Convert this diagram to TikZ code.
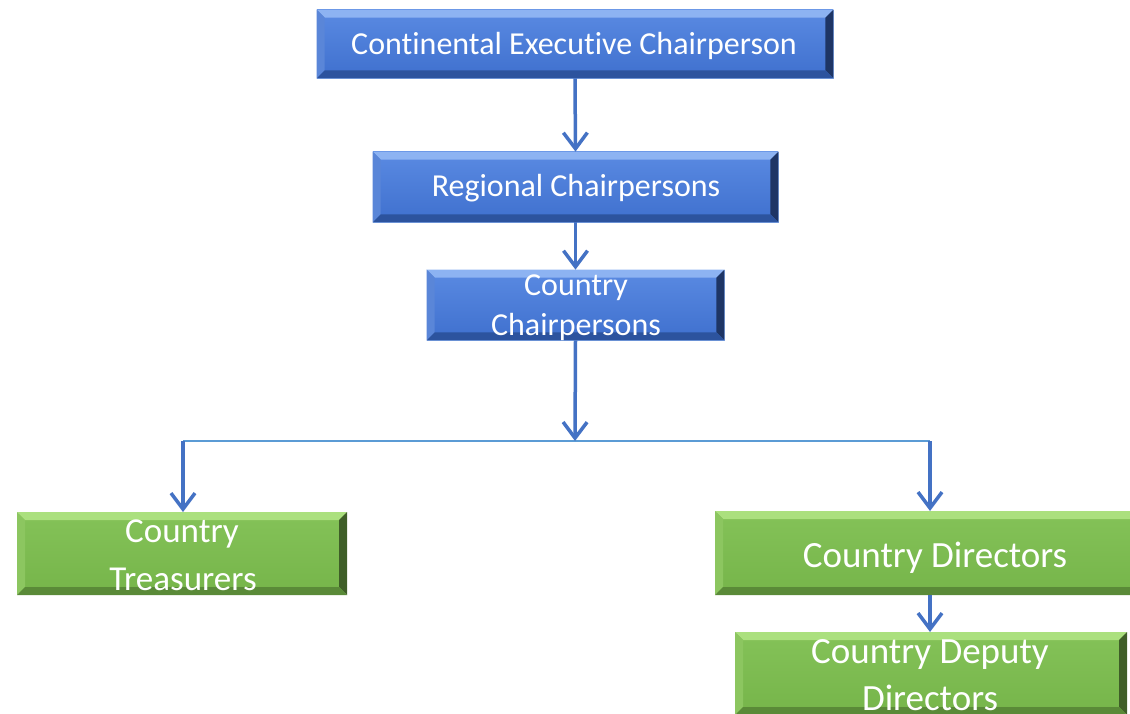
\documentclass[tikz,border=0pt]{standalone}
\usepackage{fontspec}
\setmainfont{Carlito}[Ligatures={NoCommon}]
\usetikzlibrary{arrows.meta,calc}
\definecolor{arrowblue}{HTML}{4472C4}
\definecolor{lineblue}{HTML}{5B9BD5}
\definecolor{bface}{HTML}{3F70CE}
\definecolor{bfacetop}{HTML}{5A8AE2}
\definecolor{btop}{HTML}{8DB3F2}
\definecolor{bleft}{HTML}{5A86D8}
\definecolor{bright}{HTML}{1E3565}
\definecolor{bbottom}{HTML}{2C539E}
\definecolor{gface}{HTML}{76B54A}
\definecolor{gfacetop}{HTML}{84C258}
\definecolor{gtop}{HTML}{ABE07E}
\definecolor{gleft}{HTML}{8CC660}
\definecolor{gright}{HTML}{3F5E28}
\definecolor{gbottom}{HTML}{5A8A38}
\definecolor{frame}{HTML}{C9C9C9}
\newcommand{\bevelme}[5]{%
  \fill[#2] (#1.north west) -- (#1.north east) -- ($(#1.north east)+(-8,8)$) -- ($(#1.north west)+(8,8)$) -- cycle;
  \fill[#3] (#1.north west) -- ($(#1.north west)+(8,8)$) -- ($(#1.south west)+(8,-8)$) -- (#1.south west) -- cycle;
  \fill[#4] (#1.north east) -- ($(#1.north east)+(-8,8)$) -- ($(#1.south east)+(-8,-8)$) -- (#1.south east) -- cycle;
  \fill[#5] (#1.south west) -- ($(#1.south west)+(8,-8)$) -- ($(#1.south east)+(-8,-8)$) -- (#1.south east) -- cycle;
}
\tikzset{
  bluebox/.style={rectangle, inner sep=0pt, top color=bfacetop, bottom color=bface, draw=btop, line width=0.8pt},
  greenbox/.style={rectangle, inner sep=0pt, top color=gfacetop, bottom color=gface, draw=frame, line width=2pt},
  btxt/.style={text=white, inner sep=0pt, anchor=base, font=\fontsize{32}{38}\selectfont},
  gtxt/.style={text=white, inner sep=0pt, anchor=base, font=\fontsize{35}{42}\selectfont},
  dtxt/.style={text=white, inner sep=0pt, anchor=base, font=\fontsize{37}{44}\selectfont},
  conn/.style={draw=arrowblue, line width=3.5pt, -{Straight Barb[length=16pt,width=24pt,line width=3.5pt]}},
  split/.style={draw=lineblue, line width=1.3pt}
}
\begin{document}
\begin{tikzpicture}[x=1pt,y=-1pt]
\useasboundingbox (0,0) rectangle (1130,714);
% boxes
\node[bluebox, minimum width=516pt, minimum height=68pt] (ceo) at (575,44) {};
\node[bluebox, minimum width=405pt, minimum height=70pt] (reg) at (575.5,187) {};
\node[bluebox, minimum width=297pt, minimum height=70pt] (chair) at (575.5,305) {};
\node[greenbox, minimum width=328pt, minimum height=81pt] (treas) at (182,553.5) {};
\node[greenbox, minimum width=430pt, minimum height=82pt] (dir) at (931,553) {};
\node[greenbox, minimum width=390pt, minimum height=81pt] (dep) at (931,673.5) {};
\bevelme{ceo}{btop}{bleft}{bright}{bbottom}
\bevelme{reg}{btop}{bleft}{bright}{bbottom}
\bevelme{chair}{btop}{bleft}{bright}{bbottom}
\bevelme{treas}{gtop}{gleft}{gright}{gbottom}
\bevelme{dir}{gtop}{gleft}{gright}{gbottom}
\bevelme{dep}{gtop}{gleft}{gright}{gbottom}
% texts
\node[btxt] (ceot) at (574,55) {Cont\kern0pt inental Execut\kern0pt ive Chairperson};
\node[btxt] (regt) at (576,197) {Regional Chairpersons};
\node[btxt] (chairt1) at (576,295) {Country};
\node[btxt] (chairt2) at (576,335) {Chairpersons};
\node[gtxt] (treast1) at (182,542) {Country};
\node[gtxt] (treast2) at (183,590) {Treasurers};
\node[dtxt] (dirt) at (935,567) {Country Directors};
\node[dtxt] (dept1) at (930,663) {Country Deputy};
\node[dtxt] (dept2) at (930,710) {Directors};
% connectors
\coordinate (jn) at (575,441);
\coordinate (jl) at (183,441);
\coordinate (jr) at (930,441);
\draw[split] (jl) -- (jr);
\draw[conn] (ceo.south) -- (reg.north);
\draw[conn] (reg.south) -- (chair.north);
\draw[conn] (chair.south) -- (jn);
\draw[conn] (jl) -- (jl |- treas.north);
\draw[conn] (jr) -- (jr |- dir.north);
\draw[conn] (dir.south -| jr) -- (dep.north -| jr);
\end{tikzpicture}
\end{document}
